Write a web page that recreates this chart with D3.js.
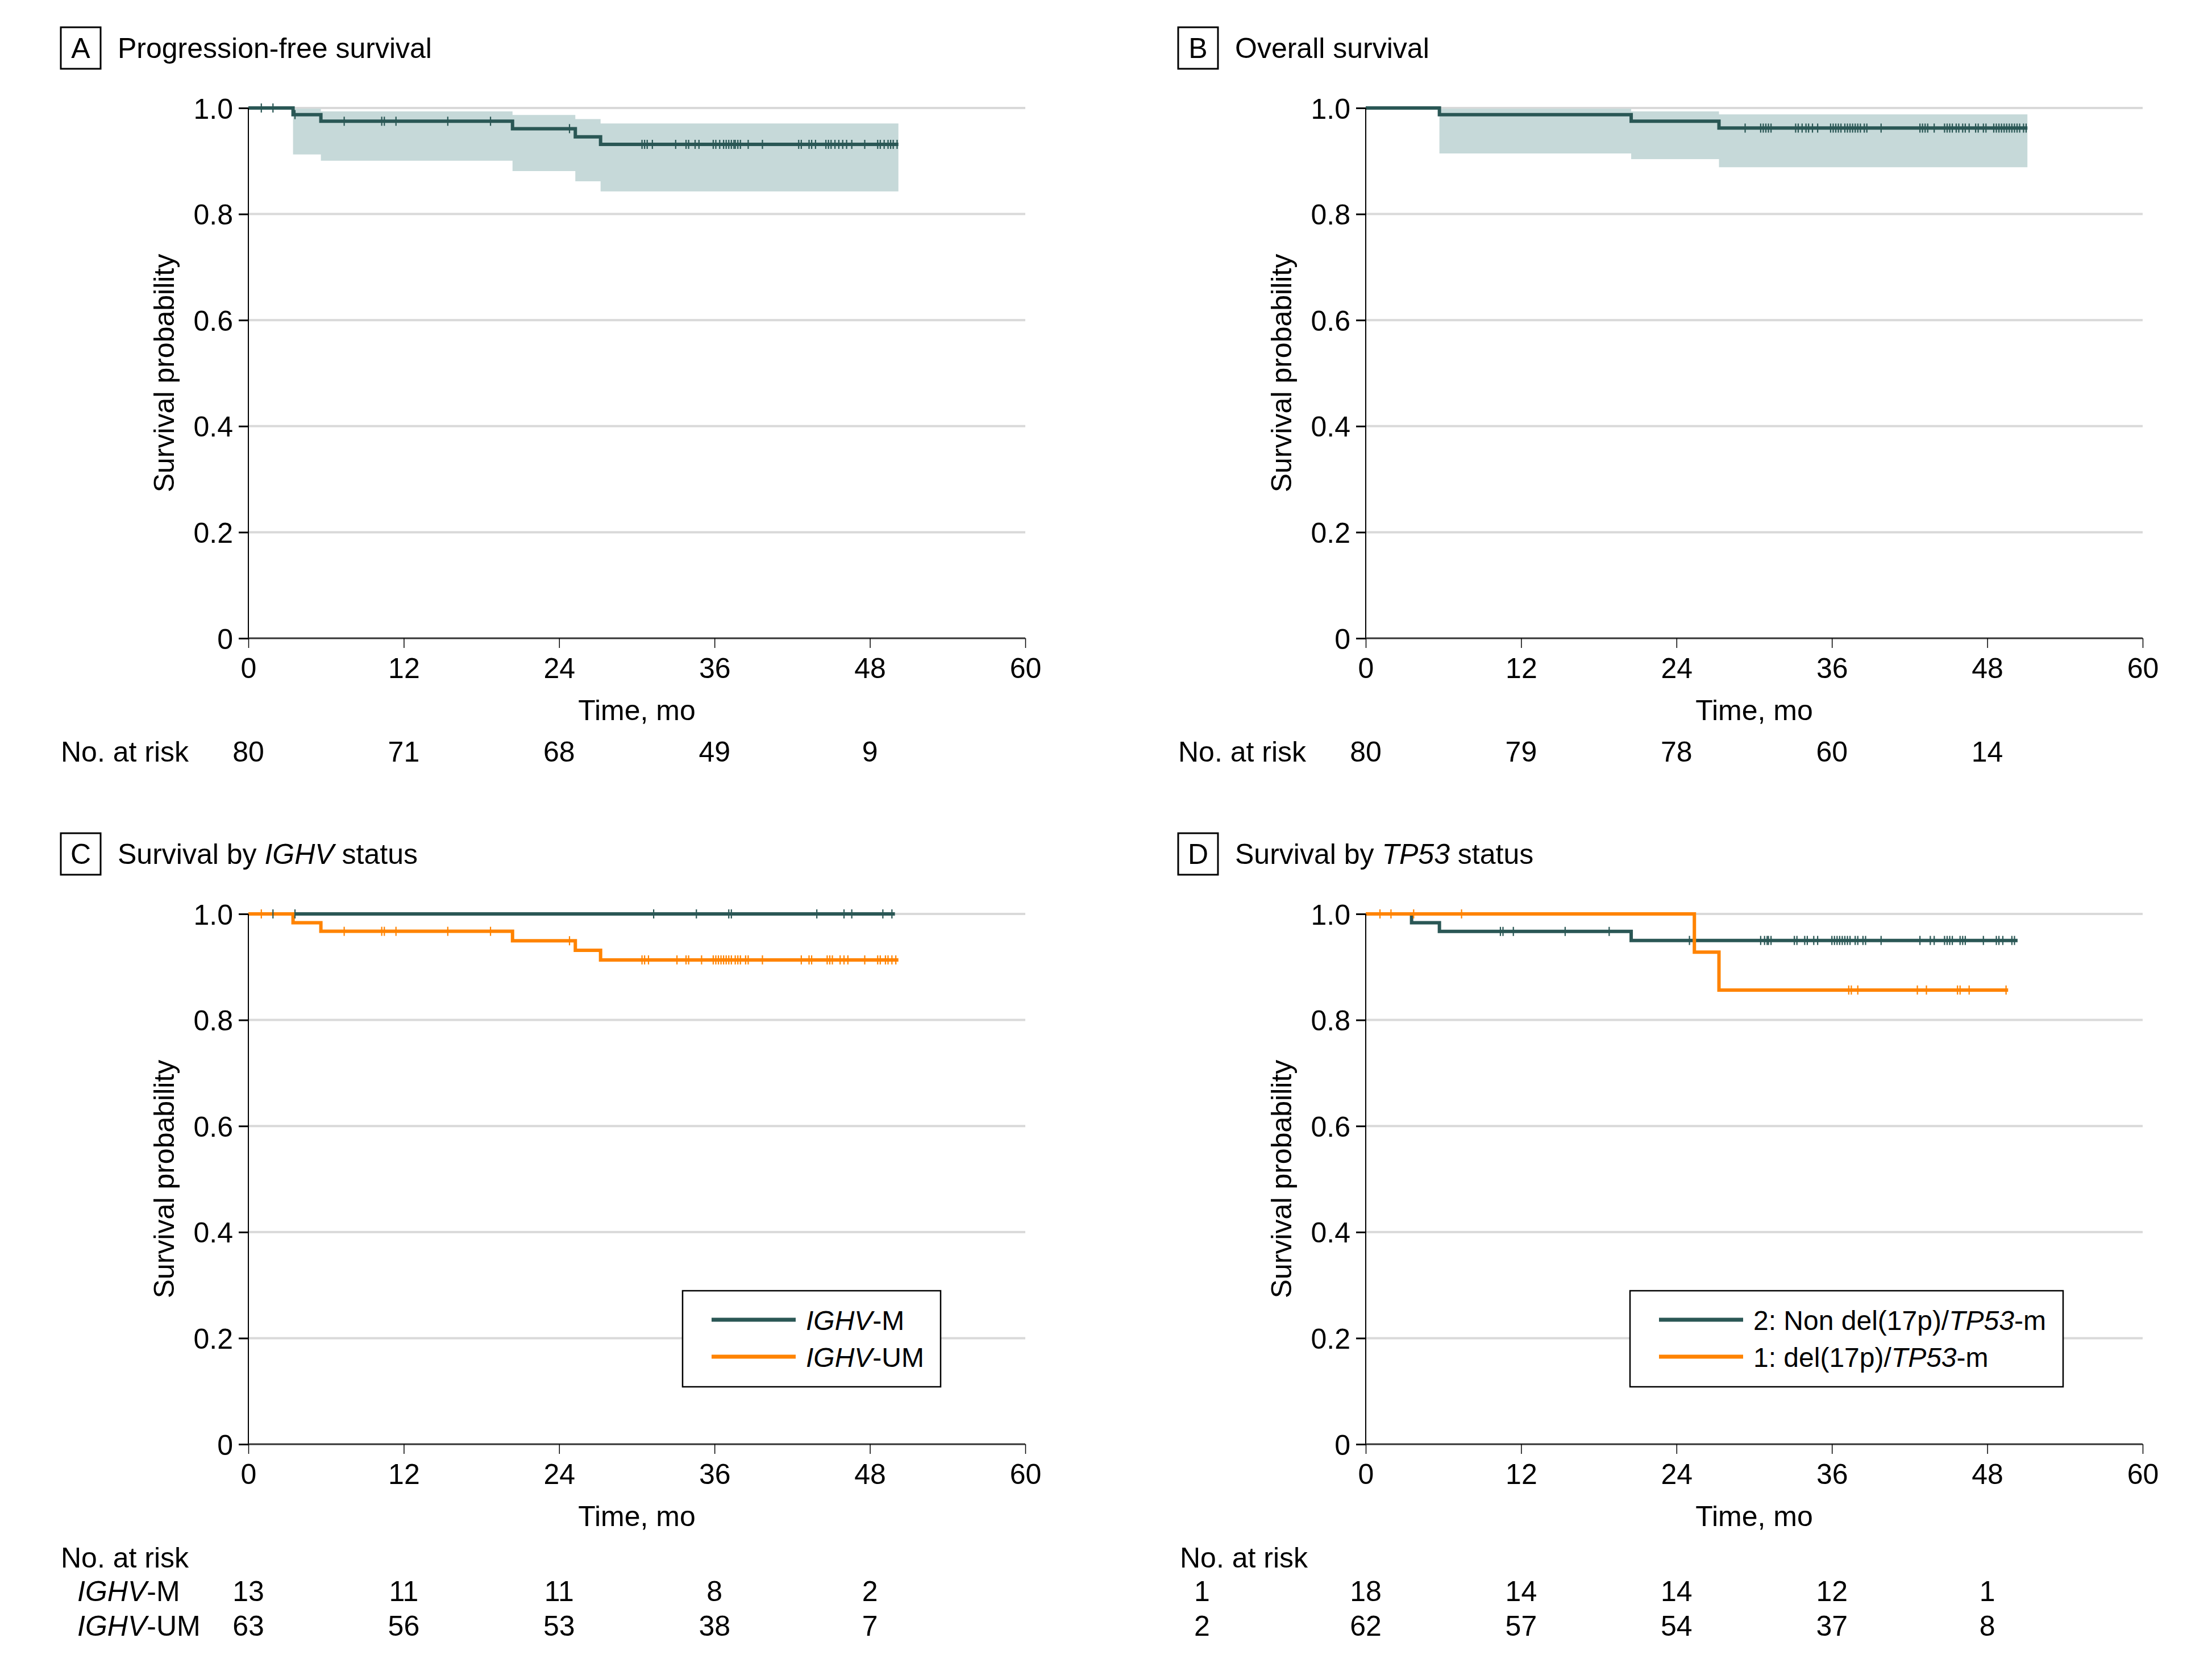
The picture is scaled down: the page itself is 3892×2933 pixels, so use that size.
<!DOCTYPE html>
<html>
<head>
<meta charset="utf-8">
<script src="https://cdn.jsdelivr.net/npm/d3@7"></script>
<style>
  html, body { margin: 0; padding: 0; background: #fff; }
  svg text { font-family: "Liberation Sans", Arial, sans-serif; fill: #000; }
</style>
</head>
<body>
<svg id="chart" width="3892" height="2933"></svg>
<script>
// ---------------- DATA ----------------
const xTicks = [0, 12, 24, 36, 48, 60];
const yTicks = [0, 0.2, 0.4, 0.6, 0.8, 1.0];
const yTickLabels = ["0", "0.2", "0.4", "0.6", "0.8", "1.0"];

// A: Progression-free survival
const pfsTime  = [0, 3.45, 5.6, 20.4, 25.25, 27.2, 50.2];
const pfsSurv  = [1, 0.9875, 0.975, 0.961, 0.9457, 0.9314, 0.9314];
const pfsUpper = [1, 0.999, 0.9936, 0.987, 0.979, 0.9707, 0.9707];
const pfsLower = [1, 0.9125, 0.9007, 0.881, 0.8617, 0.8428, 0.8428];
const pfsCensor = [1.0, 1.9, 3.6, 7.4, 10.3, 10.5, 11.4, 15.4, 18.7, 24.8,
  30.4, 30.6, 30.8, 31.2, 33.0, 33.8, 34.0, 34.5, 34.8, 35.9, 36.1, 36.4, 36.7, 36.9,
  37.1, 37.3, 37.5, 37.6, 37.8, 38.0, 38.6, 39.7, 42.5, 42.7, 43.3, 43.5, 43.8,
  44.6, 44.8, 45.0, 45.3, 45.6, 45.9, 46.2, 46.6, 47.6, 48.6, 48.8, 49.1, 49.4,
  49.6, 49.8, 50.1];
const pfsRisk = [80, 71, 68, 49, 9];

// B: Overall survival
const osTime  = [0, 5.69, 20.5, 27.28, 51.1];
const osSurv  = [1, 0.9875, 0.975, 0.9621, 0.9621];
const osUpper = [1, 0.999, 0.9936, 0.9879, 0.9879];
const osLower = [1, 0.9143, 0.9035, 0.8882, 0.8882];
const osCensor = [29.3, 30.5, 30.7, 30.9, 31.1, 31.3, 33.2, 33.4, 33.7, 34.0, 34.2,
  34.5, 34.9, 35.9, 36.1, 36.3, 36.5, 36.7, 37.0, 37.2, 37.4, 37.6, 37.8, 38.0, 38.2,
  38.5, 38.7, 39.8, 42.8, 43.0, 43.2, 43.4, 43.9, 44.7, 44.9, 45.1, 45.3, 45.6, 45.8,
  46.1, 46.3, 46.6, 47.1, 47.3, 47.7, 47.9, 48.5, 48.7, 48.9, 49.1, 49.3, 49.5, 49.7,
  49.9, 50.1, 50.3, 50.5, 50.8, 51.0];
const osRisk = [80, 79, 78, 60, 14];

// C: Survival by IGHV status
const ighvMTime = [0, 49.93];
const ighvMSurv = [1, 1];
const ighvMCensor = [1.9, 3.6, 31.3, 34.6, 37.1, 37.3, 43.9, 46.0, 46.6, 49.0, 49.7];
const ighvUMTime = [0, 3.45, 5.6, 20.4, 25.25, 27.2, 50.2];
const ighvUMSurv = [1, 0.9833, 0.9672, 0.9494, 0.9315, 0.9133, 0.9133];
const ighvUMCensor = [1.0, 7.4, 10.3, 10.5, 11.4, 15.4, 18.7, 24.8, 30.4, 30.6, 30.9,
  33.1, 33.8, 34.0, 35.0, 35.9, 36.1, 36.3, 36.5, 36.7, 36.9, 37.1, 37.3, 37.6, 37.8,
  38.0, 38.4, 38.6, 39.7, 42.7, 43.3, 43.5, 44.7, 44.9, 45.1, 45.7, 46.0, 46.3, 47.6,
  48.6, 48.8, 49.2, 49.4, 49.7, 50.0];
const ighvMRisk = [13, 11, 11, 8, 2];
const ighvUMRisk = [63, 56, 53, 38, 7];

// D: Survival by TP53 status
const nonDelTime = [0, 3.54, 5.69, 20.5, 50.34];
const nonDelSurv = [1, 0.9833, 0.967, 0.95, 0.95];
const nonDelCensor = [10.4, 10.6, 11.4, 15.4, 18.8, 25.0, 30.5, 30.8, 31.0, 31.1, 31.3,
  33.1, 33.3, 33.9, 34.1, 34.6, 34.9, 36.0, 36.2, 36.4, 36.6, 36.8, 37.0, 37.2, 37.4,
  37.8, 38.0, 38.4, 38.6, 39.8, 42.8, 43.6, 43.9, 44.7, 44.9, 45.1, 45.3, 45.9, 46.1,
  46.3, 47.7, 48.7, 48.9, 49.2, 49.9, 50.1];
const delTime = [0, 25.38, 27.28, 49.61];
const delSurv = [1, 0.928, 0.8565, 0.8565];
const delCensor = [1.1, 1.95, 3.7, 7.4, 37.3, 37.5, 38.0, 42.6, 43.3, 45.7, 45.9, 46.6, 49.45];
const delRisk = [18, 14, 14, 12, 1];
const nonDelRisk = [62, 57, 54, 37, 8];

// ---------------- STYLE ----------------
const TEAL = "#2a5755";
const ORANGE = "#ff8300";
const BAND = "#c6d9d9";
const GRID = "#d9d9d9";
const FS = 50;

const svg = d3.select("#chart");
svg.append("rect").attr("width", 3892).attr("height", 2933).attr("fill", "#fff");

const plotW = 1367, plotH = 933;

function stepValue(times, surv, t) {
  let v = surv[0];
  for (let i = 0; i < times.length; i++) { if (times[i] <= t) v = surv[i]; }
  return v;
}

function addRich(sel, parts) {
  parts.forEach(p => {
    sel.append("tspan").attr("font-style", p.i ? "italic" : "normal").text(p.t);
  });
}

function drawPanel(cfg) {
  const g = svg.append("g").attr("transform", `translate(${cfg.x0},${cfg.y1})`);
  const x = d3.scaleLinear().domain([0, 60]).range([0, plotW]);
  const y = d3.scaleLinear().domain([0, 1]).range([plotH, 0]);

  // label box + title
  g.append("rect").attr("x", -330).attr("y", -142).attr("width", 70).attr("height", 73)
    .attr("fill", "#fff").attr("stroke", "#000").attr("stroke-width", 3);
  g.append("text").attr("x", -295).attr("y", -88).attr("text-anchor", "middle")
    .attr("font-size", FS).text(cfg.letter);
  addRich(g.append("text").attr("x", -230).attr("y", -88).attr("font-size", FS), cfg.title);

  // gridlines
  g.append("g").selectAll("line").data(yTicks.filter(d => d > 0)).join("line")
    .attr("x1", 0).attr("x2", plotW).attr("y1", d => y(d)).attr("y2", d => y(d))
    .attr("stroke", GRID).attr("stroke-width", 4);

  // bands
  (cfg.bands || []).forEach(b => {
    const pts = b.time.map((t, i) => ({ t, lo: b.lower[i], hi: b.upper[i] }));
    const area = d3.area().curve(d3.curveStepAfter)
      .x(d => x(d.t)).y0(d => y(d.lo)).y1(d => y(d.hi));
    g.append("path").attr("d", area(pts)).attr("fill", BAND);
  });

  // curves
  const line = d3.line().curve(d3.curveStepAfter).x(d => x(d.t)).y(d => y(d.s));
  cfg.series.forEach(s => {
    const pts = s.time.map((t, i) => ({ t, s: s.surv[i] }));
    g.append("path").attr("d", line(pts)).attr("fill", "none")
      .attr("stroke", s.color).attr("stroke-width", 6).attr("stroke-linejoin", "miter");
  });
  cfg.series.forEach(s => {
    g.append("g").selectAll("line").data(s.censor).join("line")
      .attr("x1", d => x(d)).attr("x2", d => x(d))
      .attr("y1", d => y(stepValue(s.time, s.surv, d)) - 8)
      .attr("y2", d => y(stepValue(s.time, s.surv, d)) + 8)
      .attr("stroke", s.color).attr("stroke-width", 2.2);
  });

  // axes
  const yAxis = d3.axisLeft(y).tickValues(yTicks).tickSize(17).tickPadding(10)
    .tickFormat((d, i) => yTickLabels[i]);
  const ya = g.append("g").call(yAxis);
  ya.select(".domain").attr("stroke", "#000").attr("stroke-width", 2).attr("d", `M0,0V${plotH}`);
  ya.selectAll(".tick line").attr("stroke", "#000").attr("stroke-width", 3);
  ya.selectAll(".tick text").attr("font-size", FS).attr("font-family", "Liberation Sans, Arial, sans-serif")
    .attr("dy", "0.36em").attr("fill", "#000");

  const xAxis = d3.axisBottom(x).tickValues(xTicks).tickSize(17).tickPadding(10);
  const xa = g.append("g").attr("transform", `translate(0,${plotH})`).call(xAxis);
  xa.select(".domain").attr("stroke", "#333").attr("stroke-width", 3).attr("d", `M0,0H${plotW}`);
  xa.selectAll(".tick line").attr("stroke", "#000").attr("stroke-width", 1.5);
  xa.selectAll(".tick text").attr("font-size", FS).attr("font-family", "Liberation Sans, Arial, sans-serif")
    .attr("dy", null).attr("y", 70).attr("fill", "#000");

  // axis titles
  g.append("text").attr("transform", `translate(-149,${plotH / 2}) rotate(-90)`)
    .attr("text-anchor", "middle").attr("dy", "0.35em").attr("font-size", FS).text("Survival probability");
  g.append("text").attr("x", plotW / 2).attr("y", plotH + 144).attr("text-anchor", "middle")
    .attr("font-size", FS).text("Time, mo");

  // legend
  if (cfg.legend) {
    const L = cfg.legend;
    g.append("rect").attr("x", L.x).attr("y", 663).attr("width", L.w).attr("height", 169)
      .attr("fill", "#fff").attr("stroke", "#000").attr("stroke-width", 2.5);
    L.items.forEach((it, i) => {
      const ly = 714 + i * 65;
      g.append("line").attr("x1", L.x + 51).attr("x2", L.x + 199).attr("y1", ly).attr("y2", ly)
        .attr("stroke", it.color).attr("stroke-width", 7);
      addRich(g.append("text").attr("x", L.x + 217).attr("y", ly + 18).attr("font-size", 48), it.label);
    });
  }

  // number at risk
  const riskTimes = xTicks.slice(0, 5);
  const rk = cfg.risk;
  g.append("text").attr("x", rk.labelX).attr("y", plotH + 217).attr("font-size", FS).text("No. at risk");
  if (rk.rows.length === 1) {
    g.append("g").selectAll("text").data(rk.rows[0].values).join("text")
      .attr("x", (d, i) => x(riskTimes[i])).attr("y", plotH + 217)
      .attr("text-anchor", "middle").attr("font-size", FS).text(d => d);
  } else {
    rk.rows.forEach((row, r) => {
      const ry = plotH + 276 + r * 61;
      const lt = g.append("text").attr("x", row.lx).attr("y", ry).attr("font-size", FS)
        .attr("text-anchor", row.anchor || "start");
      addRich(lt, row.label);
      g.append("g").selectAll("text").data(row.values).join("text")
        .attr("x", (d, i) => x(riskTimes[i])).attr("y", ry)
        .attr("text-anchor", "middle").attr("font-size", FS).text(d => d);
    });
  }
}

drawPanel({
  x0: 437, y1: 190, letter: "A", title: [{ t: "Progression-free survival" }],
  bands: [{ time: pfsTime, upper: pfsUpper, lower: pfsLower }],
  series: [{ time: pfsTime, surv: pfsSurv, censor: pfsCensor, color: TEAL }],
  risk: { labelX: -330, rows: [{ values: pfsRisk }] }
});

drawPanel({
  x0: 2403, y1: 190, letter: "B", title: [{ t: "Overall survival" }],
  bands: [{ time: osTime, upper: osUpper, lower: osLower }],
  series: [{ time: osTime, surv: osSurv, censor: osCensor, color: TEAL }],
  risk: { labelX: -330, rows: [{ values: osRisk }] }
});

drawPanel({
  x0: 437, y1: 1608, letter: "C",
  title: [{ t: "Survival by " }, { t: "IGHV", i: true }, { t: " status" }],
  series: [
    { time: ighvMTime, surv: ighvMSurv, censor: ighvMCensor, color: TEAL },
    { time: ighvUMTime, surv: ighvUMSurv, censor: ighvUMCensor, color: ORANGE }
  ],
  legend: { x: 764, w: 454, items: [
    { color: TEAL, label: [{ t: "IGHV", i: true }, { t: "-M" }] },
    { color: ORANGE, label: [{ t: "IGHV", i: true }, { t: "-UM" }] }
  ] },
  risk: { labelX: -330, rows: [
    { lx: -301, label: [{ t: "IGHV", i: true }, { t: "-M" }], values: ighvMRisk },
    { lx: -301, label: [{ t: "IGHV", i: true }, { t: "-UM" }], values: ighvUMRisk }
  ] }
});

drawPanel({
  x0: 2403, y1: 1608, letter: "D",
  title: [{ t: "Survival by " }, { t: "TP53", i: true }, { t: " status" }],
  series: [
    { time: nonDelTime, surv: nonDelSurv, censor: nonDelCensor, color: TEAL },
    { time: delTime, surv: delSurv, censor: delCensor, color: ORANGE }
  ],
  legend: { x: 465, w: 762, items: [
    { color: TEAL, label: [{ t: "2: Non del(17p)/" }, { t: "TP53", i: true }, { t: "-m" }] },
    { color: ORANGE, label: [{ t: "1: del(17p)/" }, { t: "TP53", i: true }, { t: "-m" }] }
  ] },
  risk: { labelX: -327, rows: [
    { lx: -288, anchor: "middle", label: [{ t: "1" }], values: delRisk },
    { lx: -288, anchor: "middle", label: [{ t: "2" }], values: nonDelRisk }
  ] }
});
</script>
</body>
</html>
